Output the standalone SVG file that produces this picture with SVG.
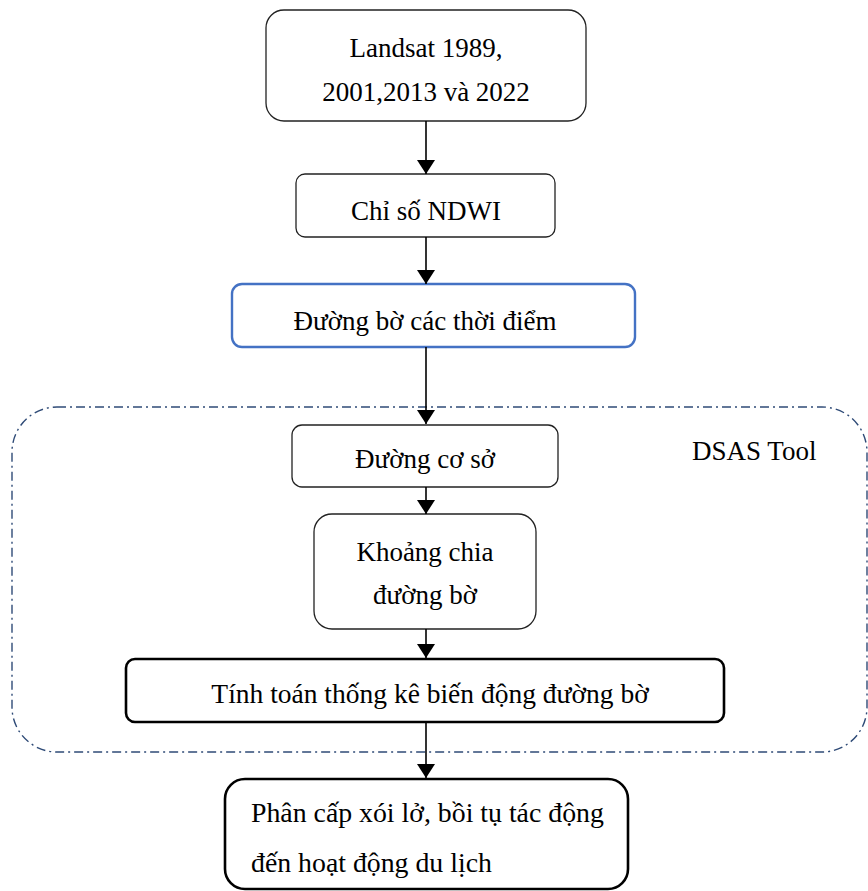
<svg xmlns="http://www.w3.org/2000/svg" width="868" height="891" viewBox="0 0 868 891">
<defs>
<marker id="ah" markerWidth="18" markerHeight="18" refX="14" refY="9" orient="auto" markerUnits="userSpaceOnUse">
<path d="M0,0 L14,9 L0,18 Z" fill="#000"/>
</marker>
<style>
.c{text-anchor:middle}
.thin{fill:#fff;stroke:#222;stroke-width:1.3}
.thick{fill:#fff;stroke:#000;stroke-width:2.6}
.blue{fill:#fff;stroke:#4472C4;stroke-width:2.4}
.conn line{stroke:#000;stroke-width:1.6;marker-end:url(#ah)}
</style>
</defs>
<rect width="868" height="891" fill="#fff"/>
<g font-family="'Liberation Serif', 'Times New Roman', serif" font-size="27" fill="#000">
<g id="dsas-group">
<rect x="12" y="407" width="855" height="345" rx="45" ry="45" fill="none" stroke="#2F4B77" stroke-width="1.4" stroke-dasharray="9 4 2 4"/>
<text x="692" y="460">DSAS Tool</text>
</g>
<g id="n-landsat">
<rect class="thin" x="266" y="10" width="320" height="111" rx="18"/>
<text class="c" x="426" y="57">Landsat 1989,</text>
<text class="c" x="426" y="101">2001,2013 và 2022</text>
</g>
<g id="n-ndwi">
<rect class="thin" x="296" y="174" width="259" height="63" rx="9"/>
<text class="c" x="426" y="220">Chỉ số NDWI</text>
</g>
<g id="n-duongbo">
<rect class="blue" x="232" y="284" width="403" height="63" rx="10"/>
<text class="c" x="425" y="330">Đường bờ các thời điểm</text>
</g>
<g id="n-coso">
<rect class="thin" x="292" y="425" width="266" height="62" rx="10"/>
<text class="c" x="425" y="468">Đường cơ sở</text>
</g>
<g id="n-khoangchia">
<rect class="thin" x="314" y="514" width="222" height="115" rx="18"/>
<text class="c" x="425" y="561">Khoảng chia</text>
<text class="c" x="425" y="604">đường bờ</text>
</g>
<g id="n-tinhtoan">
<rect class="thick" x="126" y="659" width="598" height="63" rx="9"/>
<text class="c" x="430" y="703" font-size="27.5">Tính toán thống kê biến động đường bờ</text>
</g>
<g id="n-phancap">
<rect class="thick" x="225" y="779" width="403" height="110" rx="20"/>
<text x="251" y="822" font-size="27.8">Phân cấp xói lở, bồi tụ tác động</text>
<text x="251" y="872" font-size="27.8">đến hoạt động du lịch</text>
</g>
</g>
<g id="connectors" class="conn">
<line x1="426" y1="121" x2="426" y2="174"/>
<line x1="426" y1="237" x2="426" y2="284"/>
<line x1="426" y1="347" x2="426" y2="424"/>
<line x1="426" y1="487" x2="426" y2="514"/>
<line x1="426" y1="629" x2="426" y2="658"/>
<line x1="426" y1="722" x2="426" y2="778"/>
</g>
</svg>
